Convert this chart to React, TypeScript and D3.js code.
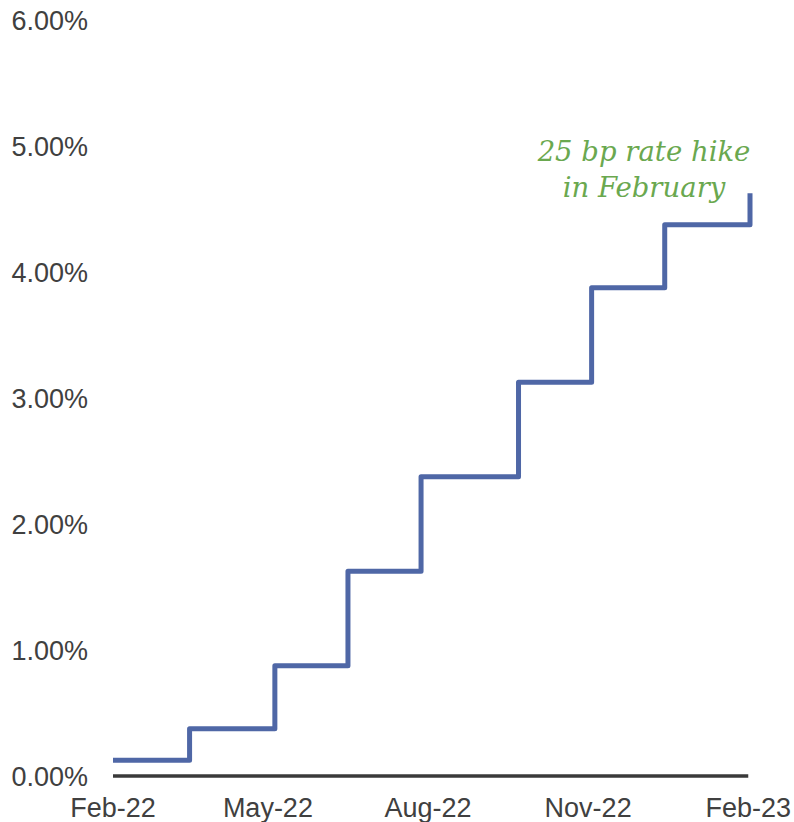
import React, { useRef, useEffect } from "react";
import * as d3 from "d3";

const hikeDates = ["2022-02-01", "2022-03-17", "2022-05-05", "2022-06-16", "2022-07-28", "2022-09-22", "2022-11-03", "2022-12-15", "2023-02-02"];
const rates = [0.125, 0.375, 0.875, 1.625, 2.375, 3.125, 3.875, 4.375, 4.625];
const yTicks = [0, 1, 2, 3, 4, 5, 6];
const xTickDates = ["2022-02-01", "2022-05-01", "2022-08-01", "2022-11-01", "2023-02-01"];
const xTickLabels = ["Feb-22", "May-22", "Aug-22", "Nov-22", "Feb-23"];
const annotation = ["25 bp rate hike", "in February"];

export default function App() {
  const ref = useRef<SVGSVGElement>(null);
  useEffect(() => {
    const svg = d3.select(ref.current);
    svg.selectAll("*").remove();
    const parse = d3.utcParse("%Y-%m-%d");
    const x = d3.scaleUtc().domain([parse("2022-02-01")!, parse("2023-02-02")!]).range([113, 750]);
    const y = d3.scaleLinear().domain([0, 6]).range([776, 20]);

    // y tick labels
    svg.append("g").selectAll("text").data(yTicks).join("text")
      .attr("x", 88).attr("y", d => y(d)).attr("dy", "0.36em")
      .attr("text-anchor", "end")
      .attr("font-family", "Liberation Sans, Arial, sans-serif")
      .attr("font-size", 27).attr("fill", "#404040")
      .text(d => d.toFixed(2) + "%");

    // x tick labels
    svg.append("g").selectAll("text").data(xTickDates).join("text")
      .attr("x", (d) => x(parse(d)!)).attr("y", 817)
      .attr("text-anchor", "middle")
      .attr("font-family", "Liberation Sans, Arial, sans-serif")
      .attr("font-size", 27).attr("fill", "#404040")
      .text((d, i) => xTickLabels[i]);

    // baseline
    svg.append("line")
      .attr("x1", x(parse("2022-02-01")!)).attr("x2", x(parse("2023-02-01")!))
      .attr("y1", y(0)).attr("y2", y(0))
      .attr("stroke", "#3a3a3a").attr("stroke-width", 3.5);

    const data = hikeDates.map((d, i) => ({ date: parse(d)!, v: rates[i] }));
    const line = d3.line<{ date: Date; v: number }>()
      .x(d => x(d.date)).y(d => y(d.v)).curve(d3.curveStepAfter);
    svg.append("path").datum(data).attr("d", line)
      .attr("fill", "none").attr("stroke", "#4f67a6").attr("stroke-width", 5)
      .attr("stroke-linejoin", "round");

    svg.append("g").selectAll("text").data(annotation).join("text")
      .attr("x", 644).attr("y", (d, i) => 161 + i * 36)
      .attr("text-anchor", "middle")
      .attr("font-family", "DejaVu Serif, serif")
      .attr("font-style", "italic")
      .attr("font-size", 27.5).attr("fill", "#6aa84f")
      .text(d => d);
  }, []);
  return <svg ref={ref} width={794} height={822} style={{ position: "absolute", left: 0, top: 0, background: "#fff" }} />;
}
